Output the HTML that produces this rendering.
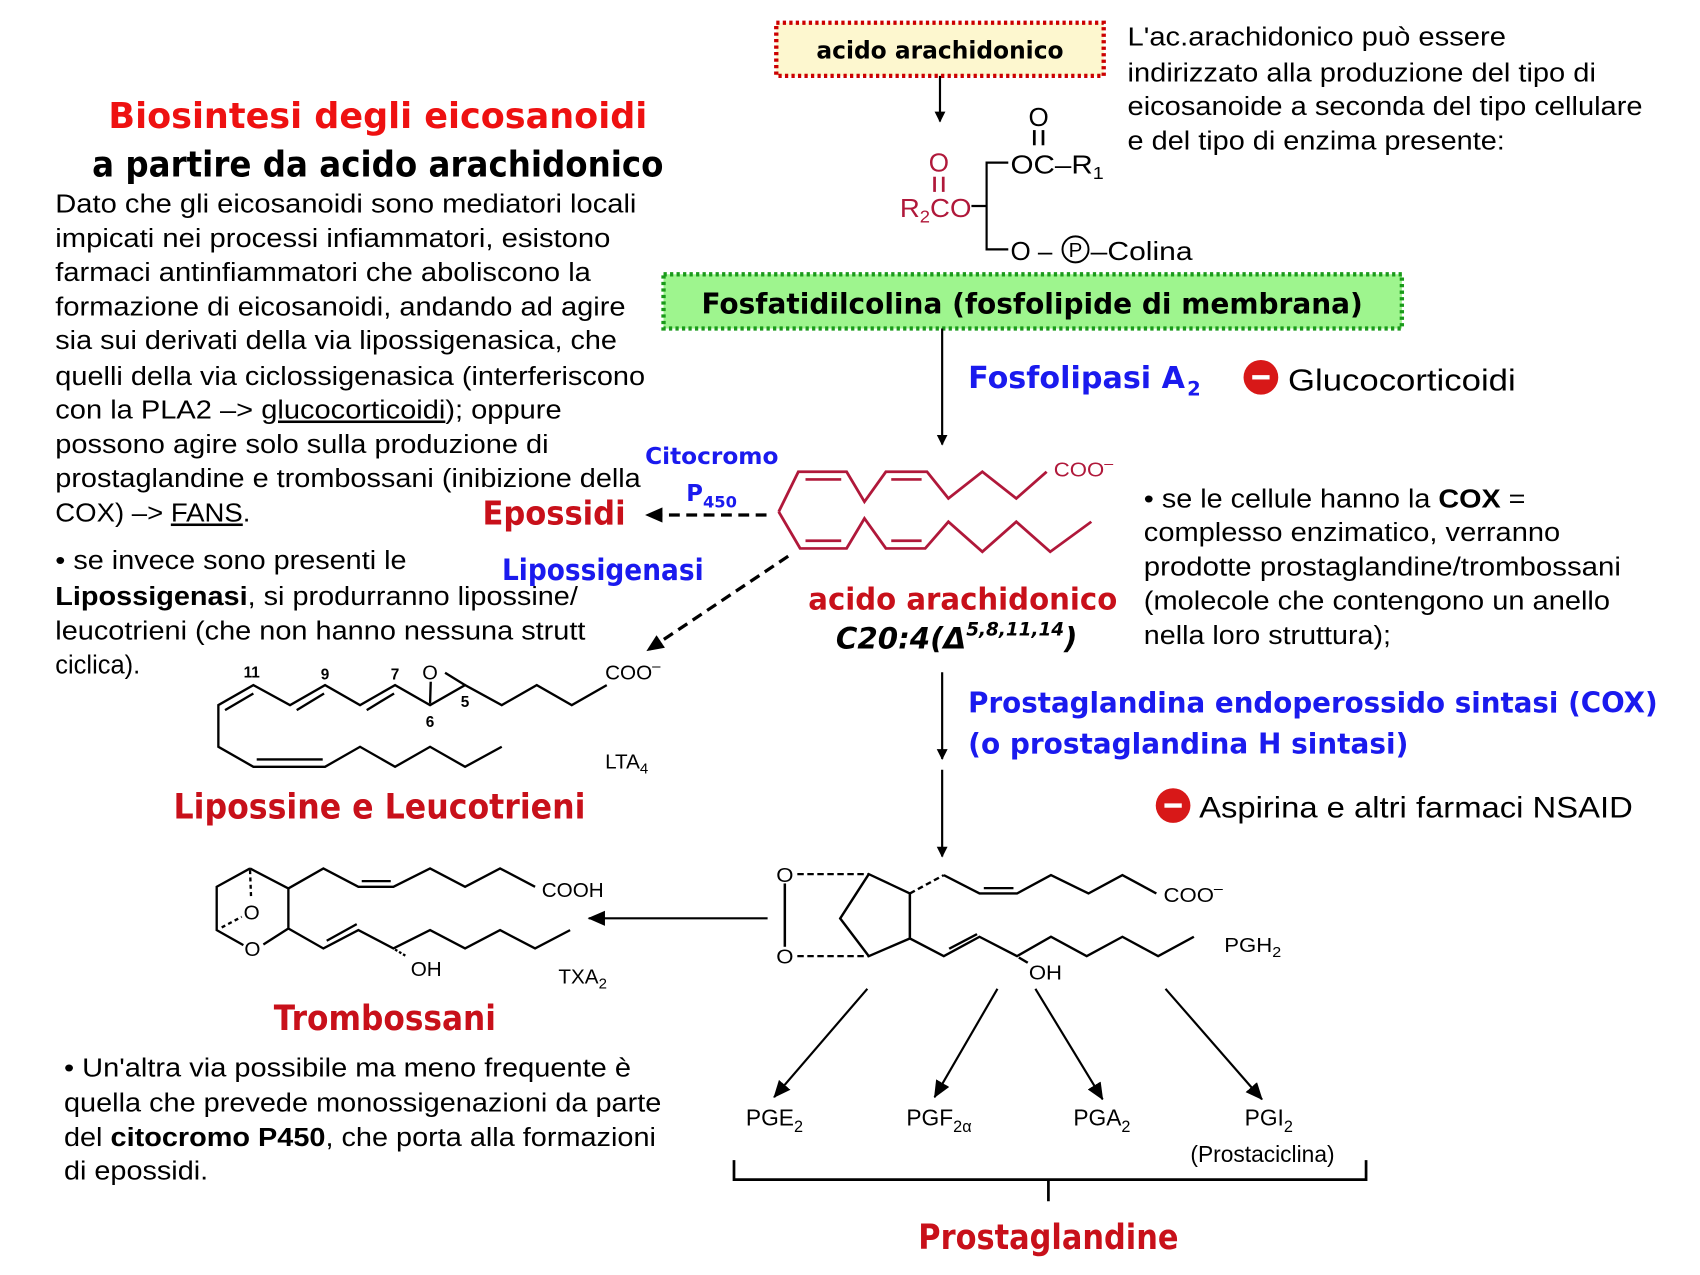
<!DOCTYPE html>
<html><head><meta charset="utf-8"><style>
html,body{margin:0;padding:0;background:#fff;}
svg{display:block;}
.t{font-family:"Liberation Sans",sans-serif;}
.c{font-family:"DejaVu Sans","Liberation Sans",sans-serif;font-weight:bold;}
</style></head><body>
<svg width="1700" height="1275" viewBox="0 0 1568 1176" xmlns="http://www.w3.org/2000/svg">
<defs>
<marker id="ah" markerWidth="10" markerHeight="10" refX="9" refY="5" orient="auto" markerUnits="userSpaceOnUse"><path d="M0,0 L10,5 L0,10 z" fill="#000"/></marker>
<marker id="ah2" markerWidth="16" markerHeight="14" refX="15" refY="7" orient="auto" markerUnits="userSpaceOnUse"><path d="M0,0 L16,7 L0,14 z" fill="#000"/></marker>
</defs>
<rect width="1568" height="1176" fill="#fff"/>

<text class="c" x="100" y="118" font-size="33" fill="#ee1111" textLength="497" lengthAdjust="spacingAndGlyphs">Biosintesi degli eicosanoidi</text>
<text class="c" x="85" y="163" font-size="33" fill="#000" textLength="527" lengthAdjust="spacingAndGlyphs">a partire da acido arachidonico</text>

<g class="t" font-size="23.5" fill="#000">
<text x="51" y="196" textLength="536" lengthAdjust="spacingAndGlyphs">Dato che gli eicosanoidi sono mediatori locali</text>
<text x="51" y="228" textLength="512" lengthAdjust="spacingAndGlyphs">impicati nei processi infiammatori, esistono</text>
<text x="51" y="259" textLength="494" lengthAdjust="spacingAndGlyphs">farmaci antinfiammatori che aboliscono la</text>
<text x="51" y="291" textLength="526" lengthAdjust="spacingAndGlyphs">formazione di eicosanoidi, andando ad agire</text>
<text x="51" y="322" textLength="518" lengthAdjust="spacingAndGlyphs">sia sui derivati della via lipossigenasica, che</text>
<text x="51" y="355" textLength="544" lengthAdjust="spacingAndGlyphs">quelli della via ciclossigenasica (interferiscono</text>
<text x="51" y="386" textLength="467" lengthAdjust="spacingAndGlyphs">con la PLA2 –&gt; <tspan text-decoration="underline">glucocorticoidi</tspan>); oppure</text>
<text x="51" y="418" textLength="455" lengthAdjust="spacingAndGlyphs">possono agire solo sulla produzione di</text>
<text x="51" y="449" textLength="540" lengthAdjust="spacingAndGlyphs">prostaglandine e trombossani (inibizione della</text>
<text x="51" y="481" textLength="180" lengthAdjust="spacingAndGlyphs">COX) –&gt; <tspan text-decoration="underline">FANS</tspan>.</text>
<text x="51" y="525" textLength="324" lengthAdjust="spacingAndGlyphs">• se invece sono presenti le</text>
<text x="51" y="558" textLength="482" lengthAdjust="spacingAndGlyphs"><tspan font-weight="bold">Lipossigenasi</tspan>, si produrranno lipossine/</text>
<text x="51" y="590" textLength="489" lengthAdjust="spacingAndGlyphs">leucotrieni (che non hanno nessuna strutt</text>
<text x="51" y="621">ciclica).</text>

<text x="1040" y="42" textLength="349" lengthAdjust="spacingAndGlyphs">L'ac.arachidonico può essere</text>
<text x="1040" y="75" textLength="432" lengthAdjust="spacingAndGlyphs">indirizzato alla produzione del tipo di</text>
<text x="1040" y="106" textLength="475" lengthAdjust="spacingAndGlyphs">eicosanoide a seconda del tipo cellulare</text>
<text x="1040" y="138" textLength="348" lengthAdjust="spacingAndGlyphs">e del tipo di enzima presente:</text>

<text x="1055" y="468" textLength="352" lengthAdjust="spacingAndGlyphs">• se le cellule hanno la <tspan font-weight="bold">COX</tspan> =</text>
<text x="1055" y="499" textLength="384" lengthAdjust="spacingAndGlyphs">complesso enzimatico, verranno</text>
<text x="1055" y="531" textLength="440" lengthAdjust="spacingAndGlyphs">prodotte prostaglandine/trombossani</text>
<text x="1055" y="562" textLength="430" lengthAdjust="spacingAndGlyphs">(molecole che contengono un anello</text>
<text x="1055" y="594" textLength="228" lengthAdjust="spacingAndGlyphs">nella loro struttura);</text>

<text x="59" y="993" textLength="523" lengthAdjust="spacingAndGlyphs">• Un'altra via possibile ma meno frequente è</text>
<text x="59" y="1025" textLength="551" lengthAdjust="spacingAndGlyphs">quella che prevede monossigenazioni da parte</text>
<text x="59" y="1057" textLength="546" lengthAdjust="spacingAndGlyphs">del <tspan font-weight="bold">citocromo P450</tspan>, che porta alla formazioni</text>
<text x="59" y="1088" textLength="133" lengthAdjust="spacingAndGlyphs">di epossidi.</text>
</g>

<rect x="716" y="21" width="302" height="49" fill="#fdf7cf" stroke="#cc0000" stroke-width="4" stroke-dasharray="3,3"/>
<text class="c" x="867" y="54" font-size="22" text-anchor="middle" textLength="228" lengthAdjust="spacingAndGlyphs">acido arachidonico</text>
<line x1="867" y1="70" x2="867" y2="112" stroke="#000" stroke-width="2" marker-end="url(#ah)"/>

<g font-family="Liberation Sans,sans-serif" font-size="24">
<text x="866" y="158" fill="#b0183a" text-anchor="middle">O</text>
<line x1="862" y1="163" x2="862" y2="177" stroke="#b0183a" stroke-width="2.5"/>
<line x1="870" y1="163" x2="870" y2="177" stroke="#b0183a" stroke-width="2.5"/>
<text x="830" y="200" fill="#b0183a" textLength="66" lengthAdjust="spacingAndGlyphs">R<tspan font-size="16" dy="5">2</tspan><tspan dy="-5">CO</tspan></text>
<path d="M896,190 H910 M930,150 H910 V230 H930" fill="none" stroke="#000" stroke-width="2"/>
<text x="958" y="116" text-anchor="middle">O</text>
<line x1="954" y1="120" x2="954" y2="134" stroke="#000" stroke-width="2.5"/>
<line x1="962" y1="120" x2="962" y2="134" stroke="#000" stroke-width="2.5"/>
<text x="932" y="160" textLength="86" lengthAdjust="spacingAndGlyphs">OC–R<tspan font-size="16" dy="5">1</tspan></text>
<text x="932" y="240">O –</text>
<circle cx="992" cy="230" r="12" fill="none" stroke="#000" stroke-width="1.8"/>
<text x="992" y="237" text-anchor="middle" font-size="19">P</text>
<text x="1006" y="240" textLength="94" lengthAdjust="spacingAndGlyphs">–Colina</text>
</g>

<rect x="612" y="253" width="681" height="50" fill="#9ef58e" stroke="#1a9a1a" stroke-width="4" stroke-dasharray="3,3"/>
<text class="c" x="952" y="289" font-size="26" text-anchor="middle" textLength="610" lengthAdjust="spacingAndGlyphs">Fosfatidilcolina (fosfolipide di membrana)</text>
<line x1="869" y1="303" x2="869" y2="410" stroke="#000" stroke-width="2" marker-end="url(#ah)"/>

<text class="c" x="893" y="358" font-size="28" fill="#1a1aee" textLength="200" lengthAdjust="spacingAndGlyphs">Fosfolipasi A</text>
<text class="c" x="1095" y="365" font-size="18" fill="#1a1aee">2</text>
<circle cx="1163" cy="348" r="16" fill="#d81818"/><rect x="1155" y="346" width="16" height="4" fill="#fff"/>
<text class="t" x="1188" y="360" font-size="28" textLength="210" lengthAdjust="spacingAndGlyphs">Glucocorticoidi</text>

<g transform="translate(553.5,405.9) scale(0.3295,0.3075)" fill="none" stroke="#b0183a" stroke-width="8" stroke-linejoin="miter">
<polyline points="500,215 555,95 690,95 740,185 800,95 915,95 975,175 1070,95 1165,175 1250,95"/>
<polyline points="500,215 560,325 690,325 740,235 800,325 910,325 975,245 1070,335 1165,245 1260,335 1375,245"/>
<line x1="575" y1="118" x2="675" y2="118"/><line x1="815" y1="118" x2="900" y2="118"/>
<line x1="575" y1="302" x2="675" y2="302"/><line x1="815" y1="302" x2="900" y2="302"/>
<text x="1270" y="110" font-family="Liberation Sans,sans-serif" font-size="62" fill="#b0183a" stroke="none">COO<tspan font-size="45" dy="-25">–</tspan></text>
</g>

<text class="c" x="595" y="428" font-size="21" fill="#1a1aee" textLength="123" lengthAdjust="spacingAndGlyphs">Citocromo</text>
<text class="c" x="633" y="462" font-size="21" fill="#1a1aee">P<tspan font-size="15" dy="6">450</tspan></text>
<text class="c" x="445" y="484" font-size="30" fill="#c8101a" textLength="132" lengthAdjust="spacingAndGlyphs">Epossidi</text>
<line x1="707" y1="475" x2="596" y2="475" stroke="#000" stroke-width="3" stroke-dasharray="10,6" marker-end="url(#ah2)"/>
<text class="c" x="463" y="535" font-size="27" fill="#1a1aee" textLength="186" lengthAdjust="spacingAndGlyphs">Lipossigenasi</text>
<line x1="727" y1="513" x2="597" y2="600" stroke="#000" stroke-width="3" stroke-dasharray="10,6" marker-end="url(#ah2)"/>

<text class="c" x="888" y="562" font-size="28" fill="#c8101a" text-anchor="middle" textLength="285" lengthAdjust="spacingAndGlyphs">acido arachidonico</text>
<text class="c" x="771" y="598" font-size="27" fill="#000" font-style="italic">C20:4(Δ<tspan font-size="17" dy="-12">5,8,11,14</tspan><tspan dy="12">)</tspan></text>

<line x1="869" y1="620" x2="869" y2="700" stroke="#000" stroke-width="2" marker-end="url(#ah)"/>
<line x1="869" y1="710" x2="869" y2="790" stroke="#000" stroke-width="2" marker-end="url(#ah)"/>
<text class="c" x="893" y="657" font-size="26" fill="#1a1aee" textLength="636" lengthAdjust="spacingAndGlyphs">Prostaglandina endoperossido sintasi (COX)</text>
<text class="c" x="893" y="695" font-size="26" fill="#1a1aee" textLength="406" lengthAdjust="spacingAndGlyphs">(o prostaglandina H sintasi)</text>
<circle cx="1082" cy="743" r="16" fill="#d81818"/><rect x="1074" y="741" width="16" height="4" fill="#fff"/>
<text class="t" x="1106" y="754" font-size="27" textLength="400" lengthAdjust="spacingAndGlyphs">Aspirina e altri farmaci NSAID</text>

<g transform="translate(184.5,590.4) scale(0.3075)" fill="none" stroke="#000" stroke-width="7">
<polyline points="1220,135 1115,195 1010,135 905,195 795,135 690,195 585,135 480,195 375,135 270,195 160,135 55,195 55,320 160,380 375,380 480,320 585,380 690,320 795,380 905,320"/>
<line x1="75" y1="210" x2="160" y2="160"/><line x1="290" y1="210" x2="372" y2="160"/><line x1="500" y1="210" x2="582" y2="160"/>
<line x1="170" y1="358" x2="368" y2="358"/>
<line x1="690" y1="190" x2="692" y2="125"/><line x1="735" y1="98" x2="795" y2="135"/>
<g font-family="Liberation Sans,sans-serif" fill="#000" stroke="none">
<text x="690" y="118" font-size="60" text-anchor="middle">O</text>
<text x="155" y="112" font-size="46" font-weight="bold" text-anchor="middle">11</text>
<text x="375" y="118" font-size="46" font-weight="bold" text-anchor="middle">9</text>
<text x="585" y="118" font-size="46" font-weight="bold" text-anchor="middle">7</text>
<text x="795" y="200" font-size="46" font-weight="bold" text-anchor="middle">5</text>
<text x="690" y="260" font-size="46" font-weight="bold" text-anchor="middle">6</text>
<text x="1215" y="118" font-size="62">COO<tspan font-size="45" dy="-25">–</tspan></text>
<text x="1215" y="385" font-size="62">LTA<tspan font-size="45" dy="15">4</tspan></text>
</g>
</g>
<text class="c" x="160" y="755" font-size="32" fill="#c8101a" textLength="380" lengthAdjust="spacingAndGlyphs">Lipossine e Leucotrieni</text>

<g transform="translate(184.5,784.1) scale(0.3075)" fill="none" stroke="#000" stroke-width="7">
<polyline points="150,55 50,110 50,240 130,285"/>
<polyline points="150,55 265,115 265,235 190,283"/>
<line x1="150" y1="60" x2="153" y2="140" stroke-dasharray="12,10"/>
<line x1="65" y1="232" x2="125" y2="200" stroke-dasharray="12,10"/>
<polyline points="265,115 370,55 475,110 580,110 690,55 795,110 900,55 1005,110"/>
<line x1="485" y1="93" x2="572" y2="93"/>
<polyline points="265,235 370,295 475,240 580,295 690,240 795,295 900,240 1005,295 1110,240"/>
<line x1="380" y1="272" x2="470" y2="222"/>
<line x1="585" y1="298" x2="618" y2="318" stroke-dasharray="8,6"/>
<g font-family="Liberation Sans,sans-serif" fill="#000" stroke="none" font-size="62">
<text x="155" y="208" text-anchor="middle">O</text>
<text x="157" y="318" text-anchor="middle">O</text>
<text x="1025" y="140">COOH</text>
<text x="632" y="378">OH</text>
<text x="1075" y="400">TXA<tspan font-size="45" dy="15">2</tspan></text>
</g>
</g>
<text class="c" x="355" y="950" font-size="32" fill="#c8101a" text-anchor="middle" textLength="205" lengthAdjust="spacingAndGlyphs">Trombossani</text>
<line x1="708" y1="847" x2="543" y2="847" stroke="#000" stroke-width="2" marker-end="url(#ah2)"/>

<g transform="translate(682.7,784.1) scale(0.3295,0.3075)" fill="none" stroke="#000" stroke-width="7">
<line x1="125" y1="100" x2="125" y2="290"/>
<line x1="160" y1="72" x2="360" y2="72" stroke-dasharray="18,10"/>
<line x1="160" y1="318" x2="360" y2="318" stroke-dasharray="18,10"/>
<polygon points="360,72 475,130 475,265 360,318 280,205"/>
<line x1="475" y1="130" x2="570" y2="75" stroke-dasharray="16,10"/>
<polyline points="570,75 670,130 775,130 870,75 975,130 1070,75 1165,130"/>
<line x1="682" y1="114" x2="765" y2="114"/>
<polyline points="475,265 570,318 670,260 775,318 870,260 970,318 1070,260 1170,318 1270,260"/>
<line x1="585" y1="296" x2="663" y2="252"/>
<line x1="780" y1="322" x2="805" y2="338"/>
<g font-family="Liberation Sans,sans-serif" fill="#000" stroke="none" font-size="62">
<text x="125" y="95" text-anchor="middle">O</text>
<text x="125" y="340" text-anchor="middle">O</text>
<text x="1185" y="155">COO<tspan font-size="45" dy="-25">–</tspan></text>
<text x="808" y="388">OH</text>
<text x="1355" y="305">PGH<tspan font-size="45" dy="15">2</tspan></text>
</g>
</g>

<g stroke="#000" stroke-width="2">
<line x1="800" y1="912" x2="714" y2="1012" marker-end="url(#ah2)"/>
<line x1="920" y1="912" x2="862" y2="1012" marker-end="url(#ah2)"/>
<line x1="955" y1="912" x2="1017" y2="1014" marker-end="url(#ah2)"/>
<line x1="1075" y1="912" x2="1164" y2="1014" marker-end="url(#ah2)"/>
</g>
<g class="t" font-size="21" fill="#000">
<text x="688" y="1038">PGE<tspan font-size="15" dy="6">2</tspan></text>
<text x="836" y="1038">PGF<tspan font-size="15" dy="6">2α</tspan></text>
<text x="990" y="1038">PGA<tspan font-size="15" dy="6">2</tspan></text>
<text x="1148" y="1038">PGI<tspan font-size="15" dy="6">2</tspan></text>
<text x="1098" y="1072">(Prostaciclina)</text>
</g>
<path d="M677,1070 V1088 H1260 V1070 M967,1088 V1108" fill="none" stroke="#000" stroke-width="2.5"/>
<text class="c" x="967" y="1152" font-size="32" fill="#c8101a" text-anchor="middle" textLength="240" lengthAdjust="spacingAndGlyphs">Prostaglandine</text>
</svg>
</body></html>
